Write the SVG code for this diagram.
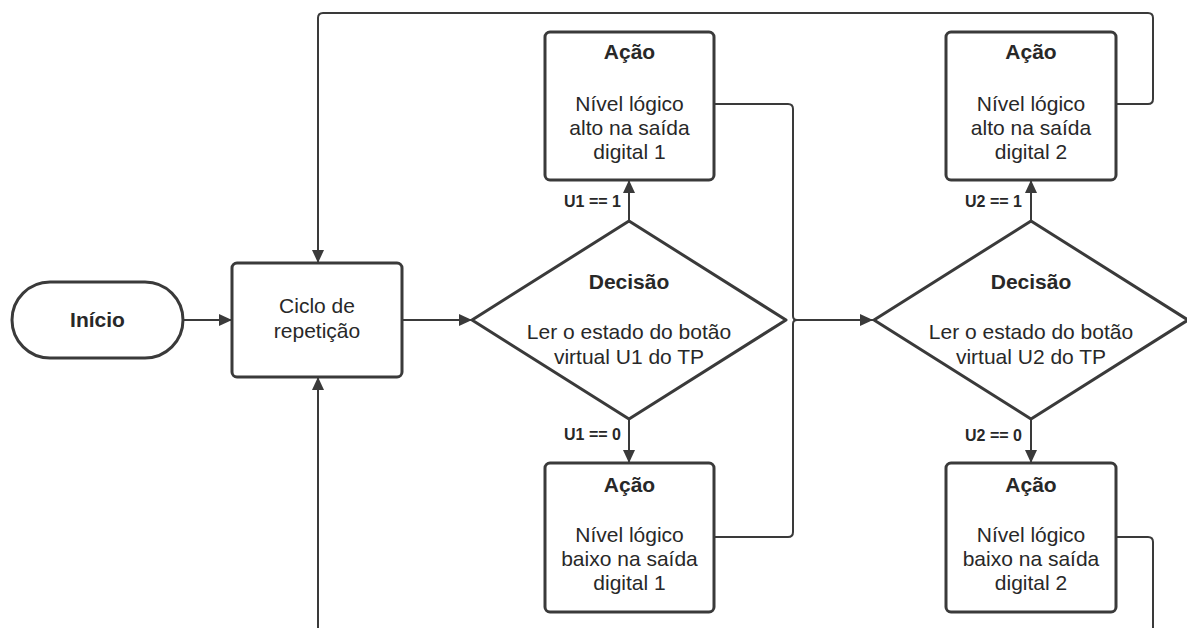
<svg xmlns="http://www.w3.org/2000/svg" width="1187" height="628" viewBox="0 0 1187 628">
<style>
.shape{fill:#fff;stroke:#3a3a3a;stroke-width:3}
.conn{fill:none;stroke:#3a3a3a;stroke-width:2}
.t{font-family:"Liberation Sans",Arial,sans-serif;font-size:21px;fill:#282828;text-anchor:middle}
.b{font-weight:bold}
.lbl{font-family:"Liberation Sans",Arial,sans-serif;font-size:16px;font-weight:bold;fill:#282828;text-anchor:end}
</style>
<defs>
<marker id="arr" markerUnits="userSpaceOnUse" markerWidth="14" markerHeight="12" refX="13" refY="6" orient="auto">
<path d="M0,0 L13,6 L0,12 Z" fill="#3a3a3a"/>
</marker>
</defs>
<rect width="1187" height="628" fill="#fff"/>
<g id="connectors">
<path class="conn" d="M183,320 H232" marker-end="url(#arr)"/>
<path class="conn" d="M402,320 H472" marker-end="url(#arr)"/>
<path class="conn" d="M629,221 V180" marker-end="url(#arr)"/>
<path class="conn" d="M629,420 V463" marker-end="url(#arr)"/>
<path class="conn" d="M714,104 H788 Q793,104 793,109 V316 Q793,320 797,320 H873" marker-end="url(#arr)"/>
<path class="conn" d="M714,537 H788 Q793,537 793,532 V324 Q793,320 797,320"/>
<path class="conn" d="M1031,221 V180" marker-end="url(#arr)"/>
<path class="conn" d="M1031,420 V463" marker-end="url(#arr)"/>
<path class="conn" d="M1116,104 H1148 Q1153,104 1153,99 V18 Q1153,13 1148,13 H323 Q318,13 318,18 V263" marker-end="url(#arr)"/>
<path class="conn" d="M1116,537 H1148 Q1153,537 1153,542 V628"/>
<path class="conn" d="M318,628 V377" marker-end="url(#arr)"/>
<text class="lbl" x="621" y="207">U1 == 1</text>
<text class="lbl" x="621" y="440">U1 == 0</text>
<text class="lbl" x="1022" y="207">U2 == 1</text>
<text class="lbl" x="1022" y="441">U2 == 0</text>
</g>
<g id="inicio">
<rect class="shape" x="12" y="282" width="171" height="76" rx="38"/>
<text class="t b" x="97.5" y="327">Início</text>
</g>
<g id="ciclo">
<rect class="shape" x="232" y="263" width="170" height="114" rx="5"/>
<text class="t" x="317" y="313">Ciclo de</text>
<text class="t" x="317" y="338">repetição</text>
</g>
<g id="decisao1">
<polygon class="shape" points="629,221 786,320 629,419 472,320" stroke-linejoin="round"/>
<text class="t b" x="629" y="289">Decisão</text>
<text class="t" x="629" y="339">Ler o estado do botão</text>
<text class="t" x="629" y="364">virtual U1 do TP</text>
</g>
<g id="acao1alto">
<rect class="shape" x="545" y="32" width="169" height="148" rx="5"/>
<text class="t b" x="629.5" y="59">Ação</text>
<text class="t" x="629.5" y="111">Nível lógico</text>
<text class="t" x="629.5" y="135">alto na saída</text>
<text class="t" x="629.5" y="159">digital 1</text>
</g>
<g id="acao1baixo">
<rect class="shape" x="545" y="463" width="169" height="149" rx="5"/>
<text class="t b" x="629.5" y="492">Ação</text>
<text class="t" x="629.5" y="542">Nível lógico</text>
<text class="t" x="629.5" y="566">baixo na saída</text>
<text class="t" x="629.5" y="590">digital 1</text>
</g>
<g id="decisao2">
<polygon class="shape" points="1031,221 1188,320 1031,419 874,320" stroke-linejoin="round"/>
<text class="t b" x="1031" y="289">Decisão</text>
<text class="t" x="1031" y="339">Ler o estado do botão</text>
<text class="t" x="1031" y="364">virtual U2 do TP</text>
</g>
<g id="acao2alto">
<rect class="shape" x="946" y="32" width="170" height="148" rx="5"/>
<text class="t b" x="1031" y="59">Ação</text>
<text class="t" x="1031" y="111">Nível lógico</text>
<text class="t" x="1031" y="135">alto na saída</text>
<text class="t" x="1031" y="159">digital 2</text>
</g>
<g id="acao2baixo">
<rect class="shape" x="946" y="463" width="170" height="149" rx="5"/>
<text class="t b" x="1031" y="492">Ação</text>
<text class="t" x="1031" y="542">Nível lógico</text>
<text class="t" x="1031" y="566">baixo na saída</text>
<text class="t" x="1031" y="590">digital 2</text>
</g>
</svg>
